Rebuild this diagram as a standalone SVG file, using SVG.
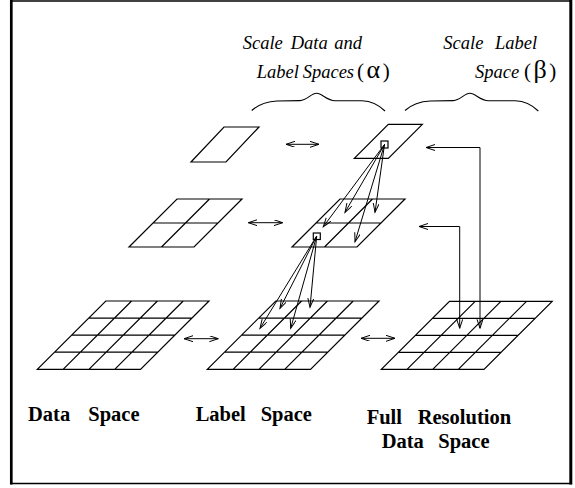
<svg xmlns="http://www.w3.org/2000/svg" width="575" height="488" viewBox="0 0 575 488">
  <style>
    .grid { fill: none; stroke: #000; stroke-width: 1.2; }
    .conn { fill: none; stroke: #000; stroke-width: 1; }
    .brace { fill: none; stroke: #000; stroke-width: 1.1; }
    .it { font-family: "Liberation Serif", "Times New Roman", serif; font-style: italic; font-size: 18.5px; fill: #000; }
    .sym { font-family: "Liberation Serif", "Times New Roman", serif; font-size: 21px; fill: #000; }
    .greek { font-size: 26px; }
    .bold { font-family: "Liberation Serif", "Times New Roman", serif; font-weight: bold; font-size: 20.5px; fill: #000; }
  </style>
  <defs>
    <marker id="arrow" markerUnits="userSpaceOnUse" markerWidth="12" markerHeight="8" refX="9" refY="3" orient="auto-start-reverse" viewBox="0 0 12 8">
      <path d="M0,0 L9,3 L0,6" fill="none" stroke="#000" stroke-width="1"/>
    </marker>
  </defs>

  <!-- frame -->
  <g id="frame" stroke="#000">
    <line x1="11.3" y1="0" x2="11.3" y2="484.5" stroke-width="2.7"/>
    <line x1="570.8" y1="0" x2="570.8" y2="484.5" stroke-width="3"/>
    <line x1="10" y1="1" x2="572" y2="1" stroke-width="1.5"/>
    <line x1="10" y1="483.5" x2="572" y2="483.5" stroke-width="1.7"/>
  </g>

  <!-- coarsest level -->
  <g id="data-level2">
    <path class="grid" d="M224,127 H259 L226,162 H191 Z"/>
  </g>
  <g id="label-level2">
    <path class="grid" d="M388.3,124.3 H422.3 L388.3,158.3 H354.3 Z"/>
    <rect class="grid" x="381" y="141" width="7" height="7" stroke-width="1"/>
  </g>

  <!-- middle level: 2x2 -->
  <g id="data-level1">
    <path class="grid" d="M177,199 H242 L194,247 H129 Z M153,223 H218 M209.5,199 L161.5,247"/>
  </g>
  <g id="label-level1">
    <path class="grid" d="M340,199 H405 L357,247 H292 Z M316,223 H381 M372.5,199 L324.5,247"/>
    <rect class="grid" x="313.3" y="233" width="7" height="6.5" stroke-width="1"/>
  </g>

  <!-- finest level: 4x4 -->
  <g id="data-space">
    <path class="grid" d="M105.8,301 H209 L140.5,369.3 H37.3 Z
      M88.7,318.1 H191.9 M71.6,335.2 H174.8 M54.4,352.2 H157.6
      M131.6,301 L63.1,369.3 M157.4,301 L88.9,369.3 M183.2,301 L114.7,369.3"/>
  </g>
  <g id="label-space">
    <path class="grid" d="M275.8,301 H379 L310.5,369.3 H207.3 Z
      M258.7,318.1 H361.9 M241.6,335.2 H344.8 M224.4,352.2 H327.6
      M301.6,301 L233.1,369.3 M327.4,301 L258.9,369.3 M353.2,301 L284.7,369.3"/>
  </g>
  <g id="full-resolution">
    <path class="grid" d="M449.5,301.3 H552.2 L484,369.3 H381.3 Z
      M432.4,318.3 H535.1 M415.4,335.3 H518.1 M398.3,352.3 H501
      M475.2,301.3 L407,369.3 M500.9,301.3 L432.7,369.3 M526.5,301.3 L458.3,369.3"/>
  </g>

  <!-- braces over the two scaling steps -->
  <g id="braces">
    <path id="brace-alpha" class="brace" d="M251.7,110.5 C259,104 266,101.5 277,101 L300,100.6 C307,100.4 311,93.3 316.7,93.3 C322,93.3 327,100.6 335,100.7 L362,100.7 C372,101 379,105 385,111"/>
    <path class="brace" transform="translate(153.3,0)" d="M251.7,110.5 C259,104 266,101.5 277,101 L300,100.6 C307,100.4 311,93.3 316.7,93.3 C322,93.3 327,100.6 335,100.7 L362,100.7 C372,101 379,105 385,111"/>
  </g>

  <!-- connectors -->
  <g id="connectors" class="conn">
    <line x1="286" y1="144.3" x2="319" y2="144.3" marker-start="url(#arrow)" marker-end="url(#arrow)"/>
    <line x1="248.3" y1="222.7" x2="282.7" y2="222.7" marker-start="url(#arrow)" marker-end="url(#arrow)"/>
    <line x1="184" y1="338.7" x2="218.3" y2="338.7" marker-start="url(#arrow)" marker-end="url(#arrow)"/>
    <line x1="361" y1="338.3" x2="395" y2="338.3" marker-start="url(#arrow)" marker-end="url(#arrow)"/>

    <!-- coarse label pixel to its children -->
    <line x1="384.5" y1="144.5" x2="345" y2="212.3" marker-end="url(#arrow)"/>
    <line x1="384.5" y1="144.5" x2="375" y2="212.3" marker-end="url(#arrow)"/>
    <line x1="384.5" y1="144.5" x2="323.3" y2="226.7" marker-end="url(#arrow)"/>
    <line x1="384.5" y1="144.5" x2="355" y2="241.7" marker-end="url(#arrow)"/>

    <!-- middle label pixel to its children -->
    <line x1="316.7" y1="236" x2="280" y2="308.3" marker-end="url(#arrow)"/>
    <line x1="316.7" y1="236" x2="310" y2="307.3" marker-end="url(#arrow)"/>
    <line x1="316.7" y1="236" x2="260" y2="328.3" marker-end="url(#arrow)"/>
    <line x1="316.7" y1="236" x2="290.7" y2="328.3" marker-end="url(#arrow)"/>

    <!-- full resolution data to label levels -->
    <polyline points="426,147.5 480,147.5 480,328.3" marker-start="url(#arrow)" marker-end="url(#arrow)"/>
    <polyline points="419,226.5 459.7,226.5 459.7,328.3" marker-start="url(#arrow)" marker-end="url(#arrow)"/>
  </g>

  <!-- labels -->
  <g id="label-alpha">
    <text class="it" y="48.5"><tspan x="242.7">Scale</tspan><tspan x="290.7">Data</tspan><tspan x="334.3">and</tspan></text>
    <text class="it" y="77.5"><tspan x="256.7">Label</tspan><tspan x="302.7">Spaces</tspan></text>
    <text class="sym" x="357" y="78">(<tspan class="greek" dx="2.5">α</tspan><tspan dx="2.5">)</tspan></text>
  </g>
  <g id="label-beta">
    <text class="it" y="48.5"><tspan x="443.3">Scale</tspan><tspan x="495">Label</tspan></text>
    <text class="it" x="475" y="77.5">Space</text>
    <text class="sym" x="524" y="78">(<tspan class="greek" dx="2.5">β</tspan><tspan dx="2.5">)</tspan></text>
  </g>
  <g id="caption-data">
    <text class="bold" y="421"><tspan x="28">Data</tspan><tspan x="88.3">Space</tspan></text>
  </g>
  <g id="caption-label">
    <text class="bold" y="420.7"><tspan x="195.7">Label</tspan><tspan x="260.7">Space</tspan></text>
  </g>
  <g id="caption-full">
    <text class="bold" y="424.3"><tspan x="366.7">Full</tspan><tspan x="417.7">Resolution</tspan></text>
    <text class="bold" y="448.3"><tspan x="381.7">Data</tspan><tspan x="438.3">Space</tspan></text>
  </g>
</svg>
